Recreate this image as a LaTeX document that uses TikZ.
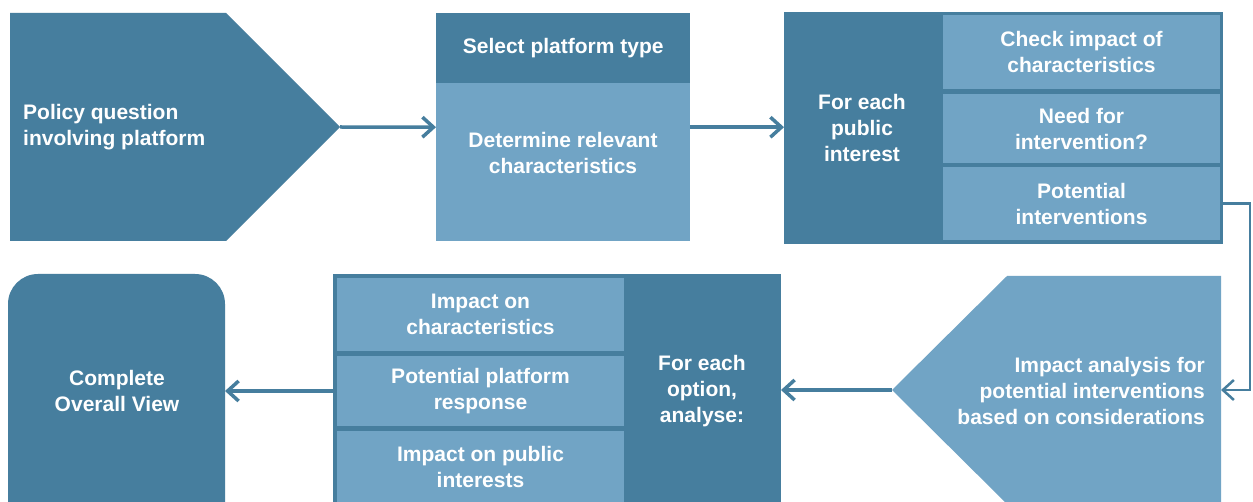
\documentclass[tikz,border=0pt]{standalone}
\usepackage{fontspec}
\setmainfont{Liberation Sans}
\usetikzlibrary{arrows.meta}
\definecolor{dk}{RGB}{70,126,158}
\definecolor{lt}{RGB}{113,164,197}
\tikzset{
  lbl/.style={text=white,font=\fontsize{21}{26}\selectfont\bfseries,align=center,inner sep=0pt},
  conn/.style={draw=dk,line width=3.5pt,-{Straight Barb[length=11pt,width=20pt,line width=3.5pt]}},
  cell/.style={fill=lt,draw=none,inner sep=0pt,text=white,font=\fontsize{21}{26}\selectfont\bfseries,align=center},
  darkbox/.style={fill=dk,draw=none,inner sep=0pt,anchor=north west},
}
\begin{document}
\begin{tikzpicture}[x=1pt,y=-1pt]
\clip (0,0) rectangle (1253,502);
\fill[white] (0,0) rectangle (1253,502);
% 1 pentagon
\fill[dk] (10,13) -- (226,13) -- (340,127) -- (226,241) -- (10,241) -- cycle;
\coordinate (p1tip) at (340,127);
\node[lbl,align=left,anchor=west] (t1) at (23,127) {Policy question\\involving platform};
% 2 box
\node[fill=lt,inner sep=0pt,minimum width=254pt,minimum height=228pt,anchor=north west] (b2) at (436,13) {};
\node[fill=dk,inner sep=0pt,minimum width=254pt,minimum height=70pt,anchor=north west,lbl] (b2top) at (436,13) {Select platform type};
\node[lbl] (b2txt) at (563,153) {Determine relevant\\characteristics};
% 3 box
\node[darkbox,minimum width=439pt,minimum height=232pt] (b3) at (784,12) {};
\node[lbl] (b3txt) at (862,128) {For each\\public\\interest};
\node[cell,minimum width=277pt,minimum height=74pt] (c31) at (1081.5,52) {Check impact of\\characteristics};
\node[cell,minimum width=277pt,minimum height=69pt] (c32) at (1081.5,128.5) {Need for\\intervention?};
\node[cell,minimum width=277pt,minimum height=73pt] (c33) at (1081.5,203.5) {Potential\\interventions};
% 4 pentagon (left)
\fill[lt] (1221,276) -- (1221,504) -- (1007,504) -- (892,390) -- (1007,276) -- cycle;
\coordinate (p4tip) at (892,390);
\coordinate (p4east) at (1221,390);
\node[lbl,align=right,anchor=east] (t4) at (1205,391) {Impact analysis for\\potential interventions\\based on considerations};
% 5 box
\node[darkbox,minimum width=448pt,minimum height=236pt] (b5) at (333,274) {};
\node[cell,minimum width=287pt,minimum height=73pt] (c51) at (480.5,314.5) {Impact on\\characteristics};
\node[cell,minimum width=287pt,minimum height=70pt] (c52) at (480.5,391) {Potential platform\\response};
\node[cell,minimum width=287pt,minimum height=71pt] (c53) at (480.5,466.5) {Impact on public\\interests};
\node[lbl] (b5txt) at (702,391) {For each\\option,\\analyse:};
\coordinate (b5e) at (781,390);
\coordinate (b5w) at (333,391);
% 6 rounded box
\fill[dk,rounded corners=30pt] (8,274) rectangle (225,540);
\coordinate (b6e) at (225,391);
\node[lbl] (t6) at (117,391) {Complete\\Overall View};
% connectors
\draw[conn] (p1tip) -- (b2.west);
\draw[conn] (b2.east) -- (b2.east -| b3.west);
\coordinate (turn1) at (1250,203.5);
\coordinate (turn2) at (1250,390);
\draw[conn,line width=2.5pt,-{Straight Barb[length=11pt,width=20pt,line width=2.5pt]}] (b3.east |- c33.center) -- (turn1) -- (turn2) -- (p4east);
\draw[conn] (p4tip) -- (b5e);
\draw[conn] (b5w) -- (b6e);
\end{tikzpicture}
\end{document}
